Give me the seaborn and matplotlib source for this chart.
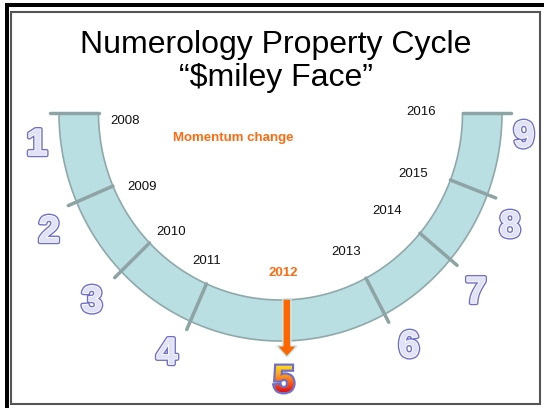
import numpy as np
import pandas as pd
import matplotlib
matplotlib.use('Agg')
import matplotlib.pyplot as plt
import matplotlib.patheffects as pe
from matplotlib.patches import Rectangle, FancyArrow, PathPatch
from matplotlib.textpath import TextPath
from matplotlib.font_manager import FontProperties
from matplotlib.transforms import Affine2D
import seaborn as sns

# cycle data
cycle_numbers = ['1', '2', '3', '4', '5', '6', '7', '8', '9']
cycle_years = [2008, 2009, 2010, 2011, 2012, 2013, 2014, 2015, 2016]
turning_year = 2012
turning_note = 'Momentum change'
title_lines = ['Numerology Property Cycle', '\u201c$miley Face\u201d']

# picture geometry (pixels, y down)
cx, cy = 280.5, 113
rx_out, ry_out = 221.5, 228
rx_in, ry_in = 182, 187
divider_deg = [0, 23, 44, 66, 118, 140, 159, 180]
arrow_deg = 92
number_xy = [(37, 145), (49, 232), (92, 302), (167, 354), (284, 379),
             (409, 347), (476, 293), (510, 227), (524, 137)]
year_xy = [(125, 121), (142, 187), (171, 232), (207, 261), (283, 273),
           (346, 252), (387, 211), (413, 174), (421, 112)]

sns.set_theme(style='white')
plt.rcParams['font.family'] = ['Liberation Sans', 'DejaVu Sans']

band_face = '#b9dfe3'
band_edge = '#8fa9aa'
div_col = '#8ea3a4'
orange = '#ff6a10'
purple = '#7070c8'


def ring_pt(deg, fx, fy):
    t = np.radians(deg)
    return cx - fx * np.cos(t), cy + fy * np.sin(t)


fig = plt.figure(figsize=(5.44, 4.08), dpi=100)
ax = fig.add_axes([0, 0, 1, 1])

# frame
ax.add_patch(Rectangle((5, 3), 539, 4, color='black', lw=0))
ax.add_patch(Rectangle((5, 3), 4, 405, color='black', lw=0))
ax.add_patch(Rectangle((11, 12), 529, 392, fill=False, ec='#555555', lw=1.5))

# the band
t = np.linspace(0, 180, 300)
ox, oy = ring_pt(t, rx_out, ry_out)
ix, iy = ring_pt(t[::-1], rx_in, ry_in)
ax.fill(np.r_[ox, ix], np.r_[oy, iy], fc=band_face, ec=band_edge, lw=1.2)

# dividers between the phases
rows = []
for k, d in enumerate(divider_deg):
    x0, y0 = ring_pt(d, rx_in, ry_in)
    x1, y1 = ring_pt(d, rx_out + 9, ry_out + 9)
    rows += [dict(seg=k, x=x0, y=y0), dict(seg=k, x=x1, y=y1)]
div_df = pd.DataFrame(rows)
sns.lineplot(data=div_df, x='x', y='y', units='seg', estimator=None, sort=False,
             color=div_col, lw=2.5, ax=ax)

# arrow at the turning year
ax_, ay_ = ring_pt(arrow_deg, rx_in, ry_in)
ax.add_patch(FancyArrow(ax_, ay_ - 1, 0, 58, width=8, head_width=20, head_length=11,
                        length_includes_head=True, fc='#ff6600', ec='#c4ecef', lw=1))

# years
for yr, (x, y) in zip(cycle_years, year_xy):
    if yr == turning_year:
        ax.text(x, y, str(yr), ha='center', va='center', fontsize=9.5,
                fontweight='bold', color=orange)
    else:
        ax.text(x, y, str(yr), ha='center', va='center', fontsize=9.5, color='#111111')

ax.text(233, 138, turning_note, ha='center', va='center', fontsize=9.5,
        fontweight='bold', color=orange)

# cycle numbers, outlined
fx = [pe.Stroke(linewidth=3.2, foreground=purple),
      pe.Stroke(linewidth=1.2, foreground='white'), pe.Normal()]
for n, (x, y) in zip(cycle_numbers, number_xy):
    if n == '5':
        continue
    ax.text(x, y, n, ha='center', va='center', fontsize=27, fontweight='bold',
            color='#e2e2f6', path_effects=fx)

# the "5" with a yellow-red gradient
i5 = cycle_numbers.index('5')
x5, y5 = number_xy[i5]
tp = TextPath((0, 0), '5', size=38, prop=FontProperties(family='Liberation Sans', weight='bold'))
ext = tp.get_extents()
w, h = ext.width, ext.height
tr = Affine2D().translate(-ext.x0 - w / 2, -ext.y0 - h / 2).scale(1, -1).translate(x5, y5)
path5 = tr.transform_path(tp)
outline = PathPatch(path5, fc='none', ec=purple, lw=3.2, zorder=4)
ax.add_patch(outline)
grad = np.linspace(0, 1, 100).reshape(-1, 1)
cmap = matplotlib.colors.LinearSegmentedColormap.from_list(
    'g5', ['#ffe21a', '#ffa51a', '#ff5a14', '#e01010'])
im = ax.imshow(grad, cmap=cmap, extent=(x5 - w / 2, x5 + w / 2, y5 + h / 2, y5 - h / 2),
               aspect='auto', zorder=5, interpolation='bilinear')
clip = PathPatch(path5, fc='none', ec='none', transform=ax.transData)
ax.add_patch(clip)
im.set_clip_path(clip)

# title
ax.text(276, 53, title_lines[0], ha='center', va='baseline', fontsize=23, color='black')
ax.text(276, 86, title_lines[1], ha='center', va='baseline', fontsize=23, color='black')

ax.set_xlim(0, 544)
ax.set_ylim(408, 0)
ax.axis('off')
fig.savefig('out.png', dpi=100)
